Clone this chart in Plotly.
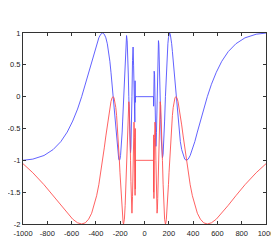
import plotly.graph_objects as go

# x positions (left half, moving toward centre)
x_left = [-1000, -919, -827, -752, -689, -636, -591, -551, -517, -487, -460, -435, -414, -394, -376, -360,
          -345, -331, -318, -306, -295, -285, -276, -267, -258.5, -250.7, -243.3, -236.3, -229.8, -223.6,
          -217.7, -212.1, -206.8, -201.8, -197, -192.4, -188, -183.8, -179.8, -176, -172.3,
          -165.4, -159.1, -153.2, -147.7, -142.6, -137.9, -133.4, -129.25, -125.3, -121.6, -118.2,
          -114.9, -111.8, -108.8, -106.05, -103.4, -98.5, -94.0, -89.9, -86.2, -82.7, -79.5,
          -77.5, -76, -75, -74]
blue_left = [-0.999, -0.981, -0.924, -0.831, -0.707, -0.556, -0.383, -0.195, 0.0, 0.195, 0.383, 0.556, 0.707, 0.831, 0.924, 0.981,
             1.0, 0.981, 0.924, 0.831, 0.707, 0.556, 0.383, 0.195, 0.0, -0.195, -0.383, -0.556, -0.707, -0.831,
             -0.924, -0.981, -1.0, -0.981, -0.924, -0.831, -0.707, -0.556, -0.383, -0.195, 0.0,
             0.383, 0.707, 0.906, 0.96, 0.878, 0.665, 0.356, 0.0, -0.349, -0.636, -0.822,
             -0.88, -0.804, -0.601, -0.322, 0.0, 0.566, 0.78, 0.495, 0.0, -0.354, -0.4,
             0.25, -0.09, 0.22, 0.0]
red_left = [-1.053, -1.195, -1.383, -1.556, -1.707, -1.831, -1.924, -1.981, -2.0, -1.981, -1.924, -1.831, -1.707, -1.556, -1.383, -1.195,
            -1.0, -0.805, -0.617, -0.444, -0.293, -0.169, -0.076, -0.019, 0.0, -0.019, -0.076, -0.169, -0.293, -0.444,
            -0.617, -0.805, -1.0, -1.195, -1.383, -1.556, -1.707, -1.831, -1.924, -1.981, -2.0,
            -1.924, -1.707, -1.375, -1.0, -0.636, -0.335, -0.141, -0.08, -0.159, -0.364, -0.659,
            -1.0, -1.333, -1.601, -1.776, -1.83, -1.566, -1.0, -0.505, -0.4, -0.646, -1.0,
            -1.55, -0.5, -1.45, -1.0]

# flat centre
x_mid = [-60, 0, 60]
blue_mid = [0.0, 0.0, 0.0]
red_mid = [-1.0, -1.0, -1.0]

# right half, moving outward from centre
x_right = [74, 75, 76, 77.5,
           79.5, 82.7, 86.2, 89.9, 94.0, 98.5, 103.4, 106.05, 108.8, 111.8, 114.9, 118.2, 121.6, 125.3,
           129.25, 133.4, 137.9, 142.6, 147.7, 153.2, 159.1, 165.4,
           172.3, 176, 179.8, 183.8, 188, 192.4, 197, 201.8, 206.8, 212.1, 217.7, 223.6, 229.8, 236.3,
           243.3, 250.7, 258.5, 267, 276, 285, 295, 306, 318, 331, 345, 360, 376, 394, 414, 435, 460,
           487, 517, 551, 591, 636, 689, 752, 827, 919, 1000]
blue_right = [0.0, -0.15, 0.3, -0.05,
              0.4, 0.354, 0.0, -0.495, -0.78, -0.566, 0.0, 0.322, 0.601, 0.804, 0.88, 0.822, 0.636, 0.349,
              0.0, -0.356, -0.665, -0.878, -0.96, -0.906, -0.707, -0.383,
              0.0, 0.195, 0.383, 0.556, 0.707, 0.831, 0.924, 0.981, 1.0, 0.981, 0.924, 0.831, 0.707, 0.556,
              0.383, 0.195, 0.0, -0.195, -0.383, -0.556, -0.707, -0.831, -0.924, -0.981, -1.0, -0.981, -0.924, -0.831, -0.707, -0.556, -0.383,
              -0.195, 0.0, 0.195, 0.383, 0.556, 0.707, 0.831, 0.924, 0.981, 0.999]
red_right = [-1.0, -1.5, -0.6, -1.6,
             -1.0, -0.646, -0.4, -0.505, -1.0, -1.566, -1.83, -1.776, -1.601, -1.333, -1.0, -0.659, -0.364, -0.159,
             -0.08, -0.141, -0.335, -0.636, -1.0, -1.375, -1.707, -1.924,
             -2.0, -1.981, -1.924, -1.831, -1.707, -1.556, -1.383, -1.195, -1.0, -0.805, -0.617, -0.444, -0.293, -0.169,
             -0.076, -0.019, 0.0, -0.019, -0.076, -0.169, -0.293, -0.444, -0.617, -0.805, -1.0, -1.195, -1.383, -1.556, -1.707, -1.831, -1.924,
             -1.981, -2.0, -1.981, -1.924, -1.831, -1.707, -1.556, -1.383, -1.195, -1.053]

x_vals = x_left + x_mid + x_right
blue_vals = blue_left + blue_mid + blue_right
red_vals = red_left + red_mid + red_right

x_ticks = [-1000, -800, -600, -400, -200, 0, 200, 400, 600, 800, 1000]
y_ticks = [-2, -1.5, -1, -0.5, 0, 0.5, 1]
y_tick_text = ["-2", "-1.5", "-1", "-0.5", "0", "0.5", "1"]

fig = go.Figure()
fig.add_trace(go.Scatter(x=x_vals, y=blue_vals, mode="lines",
                         line=dict(color="rgb(80,80,255)", width=0.9), showlegend=False))
fig.add_trace(go.Scatter(x=x_vals, y=red_vals, mode="lines",
                         line=dict(color="rgb(255,80,80)", width=0.9), showlegend=False))

axis_common = dict(showgrid=False, zeroline=False, showline=True, linecolor="#333",
                   linewidth=1, mirror="ticks", ticks="inside", ticklen=3, tickcolor="#333",
                   automargin=False,
                   tickfont=dict(family="Liberation Sans, Arial, sans-serif", size=7.5, color="#222"))
fig.update_xaxes(range=[-1000, 1000], tickvals=x_ticks, ticktext=[str(v) for v in x_ticks],
                 ticklabelstandoff=2, **axis_common)
fig.update_yaxes(range=[-2, 1], tickvals=y_ticks, ticktext=y_tick_text, **axis_common)

# page has an 8px body margin; figure sized so the plot box sits where the reference has it
fig.update_layout(width=271, height=230, margin=dict(l=15, r=13, t=25, b=14),
                  paper_bgcolor="white", plot_bgcolor="white")
fig.write_html("out.html")
